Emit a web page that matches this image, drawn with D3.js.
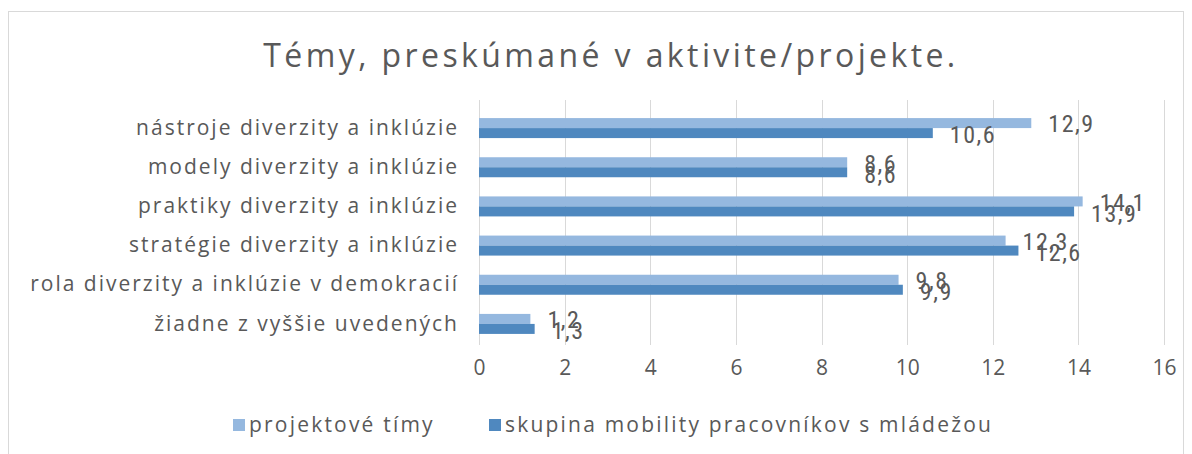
<!DOCTYPE html>
<html>
<head>
<meta charset="utf-8">
<script src="https://cdn.jsdelivr.net/npm/d3@7"></script>
<style>
  body { margin: 0; background: #fff; }
  text { fill: #595959; }
</style>
</head>
<body>
<div id="chart"></div>
<script>
const categories = [
  "nástroje diverzity a inklúzie",
  "modely diverzity a inklúzie",
  "praktiky diverzity a inklúzie",
  "stratégie diverzity a inklúzie",
  "rola diverzity a inklúzie v demokracií",
  "žiadne z vyššie uvedených"
];
const projektoveTimy = [12.9, 8.6, 14.1, 12.3, 9.8, 1.2];
const skupinaMobility = [10.6, 8.6, 13.9, 12.6, 9.9, 1.3];
const seriesNames = ["projektové tímy", "skupina mobility pracovníkov s mládežou"];
const xTicks = [0, 2, 4, 6, 8, 10, 12, 14, 16];

const colors = ["#95b8df", "#4f88bf"];
const W = 1192, H = 454;

const svg = d3.select("#chart").append("svg")
    .attr("width", W)
    .attr("height", H);

// chart frame
svg.append("rect")
    .attr("x", 8.5).attr("y", 11.5)
    .attr("width", 1175).attr("height", 470)
    .attr("fill", "none")
    .attr("stroke", "#d9d9d9");

svg.append("text")
    .attr("x", 611).attr("y", 67)
    .attr("text-anchor", "middle")
    .style("font-family", "'Open Sans', sans-serif")
    .style("font-size", "32px")
    .style("letter-spacing", "3.4px")
    .text("Témy, preskúmané v aktivite/projekte.");

const xScale = d3.scaleLinear().domain([0, 16]).range([479, 1164]);
const yScale = d3.scaleBand().domain(categories).range([108.5, 343.5]);
const sub = d3.scaleBand().domain([0, 1]).range([0, 20]);

// gridlines
svg.append("g")
    .selectAll("line")
    .data(xTicks)
    .join("line")
    .attr("x1", d => Math.round(xScale(d)) + 0.5)
    .attr("x2", d => Math.round(xScale(d)) + 0.5)
    .attr("y1", 100).attr("y2", 345)
    .attr("stroke", "#d9d9d9");

// x axis labels
const xAxis = svg.append("g")
    .attr("transform", "translate(0,345)")
    .call(d3.axisBottom(xScale).tickValues(xTicks).tickSize(0).tickPadding(15));
xAxis.select(".domain").remove();
xAxis.selectAll("text")
    .style("font-family", "'Open Sans', sans-serif")
    .style("font-size", "21px")
    .attr("fill", "#595959");

// category labels
const yAxis = svg.append("g")
    .attr("transform", "translate(479,0)")
    .call(d3.axisLeft(yScale).tickSize(0).tickPadding(20));
yAxis.select(".domain").remove();
yAxis.selectAll("text")
    .style("font-family", "'Open Sans', sans-serif")
    .style("font-size", "21px")
    .style("letter-spacing", "2px")
    .attr("fill", "#595959");

const series = [projektoveTimy, skupinaMobility];
series.forEach((vals, s) => {
  const g = svg.append("g");
  g.selectAll("rect")
    .data(vals)
    .join("rect")
    .attr("x", xScale(0))
    .attr("y", (d, i) => yScale(categories[i]) + yScale.bandwidth() / 2 - 10 + sub(s))
    .attr("width", d => xScale(d) - xScale(0))
    .attr("height", sub.bandwidth())
    .attr("fill", colors[s]);
  g.selectAll("text")
    .data(vals)
    .join("text")
    .attr("x", d => xScale(d) + 17)
    .attr("y", (d, i) => yScale(categories[i]) + yScale.bandwidth() / 2 - 5 + sub(s) + (s === 0 ? 1 : 2))
    .attr("dy", "0.35em")
    .style("font-family", "'Liberation Sans Narrow', 'Roboto Condensed', sans-serif")
    .style("font-size", "24px")
    .style("letter-spacing", "1.5px")
    .attr("fill", "#454545")
    .text(d => d3.format(".1f")(d).replace(".", ","));
});

// legend
const legend = svg.append("g");
const legendX = [233, 489];
seriesNames.forEach((name, i) => {
  legend.append("rect")
    .attr("x", legendX[i]).attr("y", 419)
    .attr("width", 12).attr("height", 12)
    .attr("fill", colors[i]);
  legend.append("text")
    .attr("x", legendX[i] + 16).attr("y", 425)
    .attr("dy", "0.35em")
    .style("font-family", "'Open Sans', sans-serif")
    .style("font-size", "21px")
    .style("letter-spacing", "2.2px")
    .text(name);
});
</script>
</body>
</html>
